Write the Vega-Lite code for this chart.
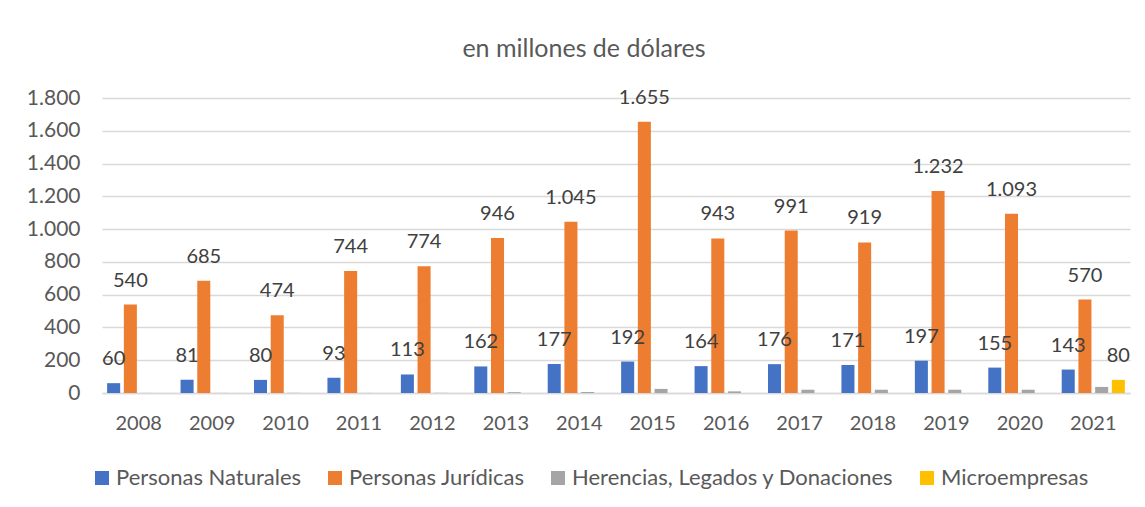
{
  "$schema": "https://vega.github.io/schema/vega-lite/v6.json",
  "width": 1028,
  "height": 295,
  "autosize": "none",
  "padding": {"left": 102, "top": 98, "right": 15, "bottom": 114},
  "background": "white",
  "config": {
    "font": "Lato",
    "view": {"stroke": null},
    "locale": {"number": {"decimal": ",", "thousands": ".", "grouping": [3], "currency": ["$", ""]}}
  },
  "title": {
    "text": "en millones de dólares",
    "fontSize": 25,
    "fontWeight": "normal",
    "color": "#595959",
    "anchor": "middle",
    "dx": -32,
    "offset": 25
  },
  "data": {
    "values": [
      {"year": "2008", "serie": "Personas Naturales", "valor": 60},
      {"year": "2008", "serie": "Personas Jurídicas", "valor": 540},
      {"year": "2008", "serie": "Herencias, Legados y Donaciones", "valor": 0.5},
      {"year": "2009", "serie": "Personas Naturales", "valor": 81},
      {"year": "2009", "serie": "Personas Jurídicas", "valor": 685},
      {"year": "2009", "serie": "Herencias, Legados y Donaciones", "valor": 0.5},
      {"year": "2010", "serie": "Personas Naturales", "valor": 80},
      {"year": "2010", "serie": "Personas Jurídicas", "valor": 474},
      {"year": "2010", "serie": "Herencias, Legados y Donaciones", "valor": 1},
      {"year": "2011", "serie": "Personas Naturales", "valor": 93},
      {"year": "2011", "serie": "Personas Jurídicas", "valor": 744},
      {"year": "2011", "serie": "Herencias, Legados y Donaciones", "valor": 0.5},
      {"year": "2012", "serie": "Personas Naturales", "valor": 113},
      {"year": "2012", "serie": "Personas Jurídicas", "valor": 774},
      {"year": "2012", "serie": "Herencias, Legados y Donaciones", "valor": 1},
      {"year": "2013", "serie": "Personas Naturales", "valor": 162},
      {"year": "2013", "serie": "Personas Jurídicas", "valor": 946},
      {"year": "2013", "serie": "Herencias, Legados y Donaciones", "valor": 5},
      {"year": "2014", "serie": "Personas Naturales", "valor": 177},
      {"year": "2014", "serie": "Personas Jurídicas", "valor": 1045},
      {"year": "2014", "serie": "Herencias, Legados y Donaciones", "valor": 6},
      {"year": "2015", "serie": "Personas Naturales", "valor": 192},
      {"year": "2015", "serie": "Personas Jurídicas", "valor": 1655},
      {"year": "2015", "serie": "Herencias, Legados y Donaciones", "valor": 25},
      {"year": "2016", "serie": "Personas Naturales", "valor": 164},
      {"year": "2016", "serie": "Personas Jurídicas", "valor": 943},
      {"year": "2016", "serie": "Herencias, Legados y Donaciones", "valor": 10},
      {"year": "2017", "serie": "Personas Naturales", "valor": 176},
      {"year": "2017", "serie": "Personas Jurídicas", "valor": 991},
      {"year": "2017", "serie": "Herencias, Legados y Donaciones", "valor": 20},
      {"year": "2018", "serie": "Personas Naturales", "valor": 171},
      {"year": "2018", "serie": "Personas Jurídicas", "valor": 919},
      {"year": "2018", "serie": "Herencias, Legados y Donaciones", "valor": 20},
      {"year": "2019", "serie": "Personas Naturales", "valor": 197},
      {"year": "2019", "serie": "Personas Jurídicas", "valor": 1232},
      {"year": "2019", "serie": "Herencias, Legados y Donaciones", "valor": 20},
      {"year": "2020", "serie": "Personas Naturales", "valor": 155},
      {"year": "2020", "serie": "Personas Jurídicas", "valor": 1093},
      {"year": "2020", "serie": "Herencias, Legados y Donaciones", "valor": 20},
      {"year": "2021", "serie": "Personas Naturales", "valor": 143},
      {"year": "2021", "serie": "Personas Jurídicas", "valor": 570},
      {"year": "2021", "serie": "Herencias, Legados y Donaciones", "valor": 37},
      {"year": "2021", "serie": "Microempresas", "valor": 80}
    ]
  },
  "encoding": {
    "x": {
      "field": "year",
      "type": "nominal",
      "scale": {"paddingInner": 0.14, "paddingOuter": 0.07},
      "axis": {
        "title": null,
        "labelAngle": 0,
        "labelFontSize": 20,
        "labelColor": "#595959",
        "labelPadding": 20,
        "ticks": false,
        "domainColor": "#d9d9d9",
        "domainWidth": 1.5
      }
    },
    "xOffset": {
      "field": "serie",
      "type": "nominal",
      "scale": {
        "domain": ["Personas Naturales", "Personas Jurídicas", "Herencias, Legados y Donaciones", "Microempresas"],
        "paddingInner": 0.22,
        "paddingOuter": 0
      }
    },
    "y": {
      "field": "valor",
      "type": "quantitative",
      "scale": {"domain": [0, 1800]},
      "axis": {
        "title": null,
        "values": [0, 200, 400, 600, 800, 1000, 1200, 1400, 1600, 1800],
        "format": ",d",
        "labelFontSize": 21,
        "labelColor": "#595959",
        "labelPadding": 22,
        "ticks": false,
        "domain": false,
        "gridColor": "#d9d9d9",
        "gridWidth": 1.5
      }
    }
  },
  "layer": [
    {
      "mark": {"type": "bar"},
      "encoding": {
        "color": {
          "field": "serie",
          "type": "nominal",
          "scale": {
            "domain": ["Personas Naturales", "Personas Jurídicas", "Herencias, Legados y Donaciones", "Microempresas"],
            "range": ["#4472C4", "#ED7D31", "#A5A5A5", "#FFC000"]
          },
          "legend": {
            "title": null,
            "orient": "none",
            "direction": "horizontal",
            "legendX": -11,
            "legendY": 369,
            "symbolType": "square",
            "symbolSize": 196,
            "symbolStrokeWidth": 0,
            "labelFontSize": 22,
            "labelLimit": 500,
            "labelColor": "#595959",
            "labelOffset": 3,
            "columnPadding": 22
          }
        }
      }
    },
    {
      "transform": [{"filter": "datum.serie !== 'Herencias, Legados y Donaciones'"}],
      "mark": {"type": "text", "baseline": "alphabetic", "dy": -18, "fontSize": 20, "color": "#404040"},
      "encoding": {
        "text": {"field": "valor", "type": "quantitative", "format": ",d"}
      }
    }
  ]
}
